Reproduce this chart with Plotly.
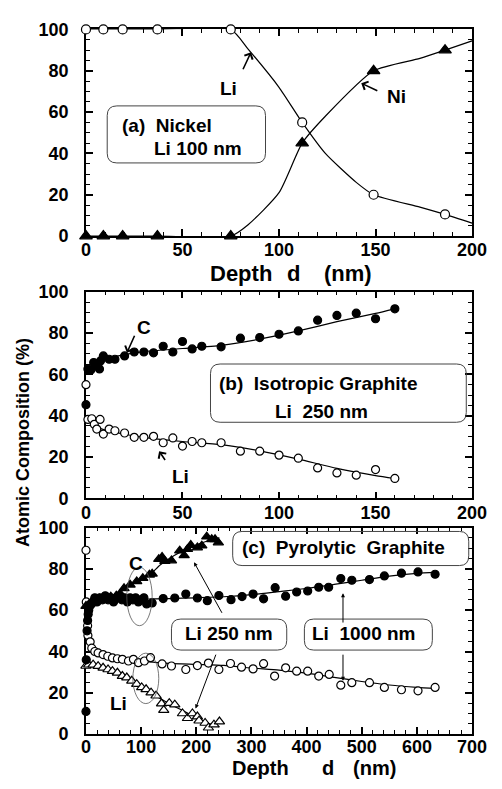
import plotly.graph_objects as go

# ---------------- Panel (a): Nickel, Li 100 nm ----------------
a_depth = [0, 9, 19, 37, 75, 112, 149, 186]
a_li = [100, 100, 100, 100, 100, 55, 20, 10.5]
a_ni = [0, 0, 0, 0, 0, 45, 80, 90]
a_fit_depth_li = [0, 37, 75, 84, 100, 112, 124, 140, 149, 173, 186, 200]
a_fit_li = [100, 100, 100, 90.5, 72, 55, 40, 26, 20, 14, 10.5, 6.3]
a_fit_depth_ni = [0, 37, 75, 84, 100, 112, 124, 149, 173, 186, 200]
a_fit_ni = [0, 0, 0, 5.5, 21, 45, 58, 80, 86, 90, 94.5]

# ---------------- Panel (b): Isotropic Graphite, Li 250 nm ----------------
b_depth = [0, 1, 2.5, 4, 5, 7, 7.5, 9, 12, 15, 20, 25, 30, 35, 40, 45, 50, 55, 60,
           70, 80, 90, 100, 110, 120, 130, 140, 150, 160]
b_c = [45.3, 62.6, 62.1, 65.7, 64.2, 62.6, 66.5, 68.9, 67.3, 67.3, 68.9, 70.8, 70.8,
       70.4, 73.6, 70.8, 75.9, 72.3, 73.6, 73.3, 77.5, 77.8, 79.4, 81, 86.2, 88.5,
       89.6, 86.9, 91.7]
b_depth_li = [0, 1, 3, 4.3, 5.6, 7.3, 9, 12, 15, 20, 25, 30, 35, 40, 45, 50, 55, 60,
              70, 80, 90, 100, 110, 120, 130, 140, 150, 160]
b_li = [55, 38.2, 38.5, 35.8, 33.5, 38.2, 31.1, 33.5, 32.7, 31.6, 29.5, 29.5, 30,
        26.9, 29.2, 25.3, 27.5, 26.9, 26.9, 22.8, 22.8, 20.9, 19.4, 14.7, 12.3, 11.2,
        13.9, 9.6]
b_fit_depth = [0.5, 5, 10, 20, 30, 50, 70, 90, 110, 130, 150, 160]
b_fit_c = [61, 65, 67.5, 69.5, 71, 72.5, 74, 77, 81, 85.5, 89.5, 91.7]
b_fit_li = [38.5, 35, 33, 31, 29.5, 27.5, 26, 23, 19, 14.5, 11, 9.6]

# ---------------- Panel (c): Pyrolytic Graphite ----------------
# Li 1000 nm sample
c1000_depth = [0, 0.5, 2, 3, 4, 5, 7, 10, 13, 16, 20, 25, 30, 35, 40, 45, 50, 55, 60,
               65, 70, 75, 80, 85, 90, 95, 100, 105, 110, 120, 140, 161, 181, 202,
               220, 241, 263, 283, 303, 322, 343, 362, 382, 402, 422, 440, 462, 482,
               514, 541, 572, 602, 633]
c1000_c = [11, 36, 50, 55, 58, 60, 62, 63, 64, 66, 64, 66, 65, 67, 65, 66, 64, 66, 67,
           65, 66, 64, 66, 65, 66, 64, 65, 66, 63, 63.5, 65.6, 65.9, 67.8, 65.9, 64.6,
           67.1, 65.1, 66.6, 67.8, 65.5, 70.9, 66.8, 68.8, 69.3, 71.1, 71.1, 75.3,
           74.5, 74.8, 76.6, 77.9, 78.5, 77.4]
c1000_li_depth = [0, 0.5, 3, 3.5, 7.6, 10.5, 16, 22, 31, 39.5, 48, 57, 66, 77, 86, 95,
                  106, 117, 138, 155, 181, 202, 222, 241, 262, 282, 303, 322, 342, 362,
                  382, 402, 422, 441, 462, 482, 514, 541, 572, 602, 633]
c1000_li = [89, 64, 52.5, 47.8, 44.7, 41.6, 40, 39.3, 38.5, 37.7, 36.9, 36.5, 36.2,
            35.4, 36.2, 34.6, 35.4, 37, 34, 33, 31.3, 33.2, 34.4, 31.3, 34.2, 32.4,
            31.6, 34.1, 28.1, 32.1, 30.5, 30.5, 28.1, 28.9, 23.7, 24.9, 24.9, 22.6,
            21.5, 21, 22.6]
c1000_fit_depth = [0, 5, 10, 20, 50, 100, 150, 200, 250, 300, 350, 400, 450, 500, 550,
                   600, 635]
c1000_fit_c = [52, 60, 63, 64.5, 65, 65.3, 65.6, 66, 66.5, 67.5, 69, 70.5, 72.5, 74.5,
               76.5, 77.8, 78.3]
c1000_fit_li = [52, 45, 42, 39.5, 38, 35.5, 34.3, 33.8, 33.3, 32, 31, 29.5, 27.5, 25.5,
                23.8, 22.6, 22]
# Li 250 nm sample
c250_c_depth = [0, 3, 6, 10, 15, 25, 35, 45, 55, 62, 69, 80, 92, 103, 115, 120, 132,
                138, 143, 155, 170, 178, 184, 190, 202, 210, 219, 228, 234, 240]
c250_c = [62, 62, 63, 64, 64.5, 65.5, 66, 66.5, 67, 68, 70.6, 72.3, 73.9, 75.5, 77.1,
          77.6, 84.7, 85.7, 83.7, 84, 88.8, 86.5, 89.5, 91.5, 90.3, 91.2, 95.6, 94.3,
          94.3, 92.7]
c250_li_depth = [0, 5, 13, 22, 31, 40, 48, 57, 66, 74, 83, 92, 101, 109, 118, 127,
                 137, 141, 151, 161, 175, 184, 193, 202, 205, 216, 222, 232, 242]
c250_li = [33, 33.6, 33.6, 32.9, 32.1, 31.3, 30.5, 29.7, 28.1, 27.4, 25.8, 24.2, 22.6,
           21.7, 20.1, 18.6, 14.8, 11.6, 15, 14.3, 10, 7.7, 10, 8.5, 6.5, 5.4, 3.1, 4.6,
           6.1]
c250_fit_c_depth = [65, 90, 115, 135, 160, 190, 220, 242]
c250_fit_c = [70, 73.5, 77, 82, 86.5, 90.5, 93.5, 95]
c250_fit_li_depth = [0, 20, 50, 80, 100, 130, 160, 190, 220, 242]
c250_fit_li = [34, 33, 31, 27, 23.5, 18, 13.5, 9.5, 5.5, 3.5]

# ---------------- tick labels ----------------
ab_xticks = [0, 50, 100, 150, 200]
c_xticks = [0, 100, 200, 300, 400, 500, 600, 700]
y_ticks = [0, 20, 40, 60, 80, 100]

FONT = "Liberation Sans, Arial, Helvetica, sans-serif"
W, H = 502, 789

fig = go.Figure()


def add_line(x, y, xa, ya):
    fig.add_trace(go.Scatter(x=x, y=y, mode="lines",
                             line=dict(color="black", width=1.2, shape="spline", smoothing=0.6),
                             xaxis=xa, yaxis=ya, hoverinfo="skip", showlegend=False))


def add_pts(x, y, xa, ya, symbol, filled, size):
    fig.add_trace(go.Scatter(x=x, y=y, mode="markers", cliponaxis=False,
                             marker=dict(symbol=symbol, size=size,
                                         color="black" if filled else "white",
                                         line=dict(color="black", width=1.2)),
                             xaxis=xa, yaxis=ya, showlegend=False))


# panel a
add_line(a_fit_depth_li, a_fit_li, "x", "y")
add_line(a_fit_depth_ni, a_fit_ni, "x", "y")
add_pts(a_depth, a_li, "x", "y", "circle", False, 9)
add_pts(a_depth, a_ni, "x", "y", "triangle-up", True, 11)

# panel b
add_line(b_fit_depth, b_fit_c, "x2", "y2")
add_line(b_fit_depth, b_fit_li, "x2", "y2")
add_pts(b_depth, b_c, "x2", "y2", "circle", True, 8)
add_pts(b_depth_li, b_li, "x2", "y2", "circle", False, 8)

# panel c
add_line(c1000_fit_depth, c1000_fit_c, "x3", "y3")
add_line(c1000_fit_depth, c1000_fit_li, "x3", "y3")
add_line(c250_fit_c_depth, c250_fit_c, "x3", "y3")
add_line(c250_fit_li_depth, c250_fit_li, "x3", "y3")
add_pts(c1000_li_depth, c1000_li, "x3", "y3", "circle", False, 8)
add_pts(c250_li_depth, c250_li, "x3", "y3", "triangle-up", False, 9)
add_pts(c1000_depth, c1000_c, "x3", "y3", "circle", True, 8)
add_pts(c250_c_depth, c250_c, "x3", "y3", "triangle-up", True, 9)

tickfont = dict(family=FONT, size=18, color="black")


def ax(rng, ticks, minor, dom, anchor, standoff):
    return dict(range=rng, tickmode="array", tickvals=ticks,
                ticktext=[f"<b>{t}</b>" for t in ticks],
                domain=dom, anchor=anchor,
                showline=True, linecolor="black", linewidth=1.5, mirror="ticks",
                ticks="inside", ticklen=7, tickwidth=1.5, tickcolor="black",
                minor=dict(ticks="inside", ticklen=4, tickwidth=1, dtick=minor,
                           tickcolor="black", showgrid=False),
                showgrid=False, zeroline=False, tickfont=tickfont,
                ticklabelstandoff=standoff,
                layer="below traces", fixedrange=True)


XD = [0.168, 0.969]
fig.update_layout(
    width=W, height=H, autosize=False,
    margin=dict(l=0, r=0, t=0, b=0, pad=0),
    paper_bgcolor="white", plot_bgcolor="white",
    font=dict(family=FONT, color="black"),
    xaxis=ax([0, 200], ab_xticks, 10, XD, "y", -3),
    yaxis=ax([0, 100], y_ticks, 5, [0.7060, 0.9747], "x", 12),
    xaxis2=ax([0, 200], ab_xticks, 10, XD, "y2", -3),
    yaxis2=ax([0, 100], y_ticks, 5, [0.3650, 0.6337], "x2", 12),
    xaxis3=ax([0, 700], c_xticks, 20, XD, "y3", -5),
    yaxis3=ax([0, 100], y_ticks, 5, [0.0583, 0.3270], "x3", 12),
)


def rrect(x0, x1, y0, y1, rx, ry):
    return (f"M {x0+rx},{y0} L {x1-rx},{y0} Q {x1},{y0} {x1},{y0+ry} "
            f"L {x1},{y1-ry} Q {x1},{y1} {x1-rx},{y1} L {x0+rx},{y1} "
            f"Q {x0},{y1} {x0},{y1-ry} L {x0},{y0+ry} Q {x0},{y0} {x0+rx},{y0} Z")


shapes = []
box_line = dict(color="#444", width=1)
shapes.append(dict(type="path", xref="x", yref="y", path=rrect(11, 93, 35.4, 63, 5, 4.7), line=box_line))
shapes.append(dict(type="path", xref="x2", yref="y2", path=rrect(64.5, 197, 36.8, 65, 5, 4.7), line=box_line))
shapes.append(dict(type="path", xref="x3", yref="y3", path=rrect(266, 694, 81.6, 98.1, 17, 4.7), line=box_line))
shapes.append(dict(type="path", xref="x3", yref="y3", path=rrect(155, 364, 40.7, 55.7, 17, 4.7), line=box_line))
shapes.append(dict(type="path", xref="x3", yref="y3", path=rrect(396, 628, 40.7, 55.7, 17, 4.7), line=box_line))
ell_line = dict(color="#555", width=0.8)
shapes.append(dict(type="circle", xref="x3", yref="y3", x0=74, x1=120, y0=52.5, y1=80.8, line=ell_line))
shapes.append(dict(type="circle", xref="x3", yref="y3", x0=85, x1=132, y0=14.8, y1=39.2, line=ell_line))
fig.update_layout(shapes=shapes)

ann = []
TF = dict(family=FONT, size=19, color="black")


def text(x, y, s, xa, ya, xanchor="center"):
    ann.append(dict(x=x, y=y, xref=xa, yref=ya, text=f"<b>{s}</b>", showarrow=False,
                    font=TF, xanchor=xanchor, yanchor="middle"))


def arrow(hx, hy, tx, ty, xa, ya, head, size, width):
    ann.append(dict(x=hx, y=hy, ax=tx, ay=ty, xref=xa, yref=ya, axref=xa, ayref=ya,
                    text="", showarrow=True, arrowhead=head, arrowsize=size,
                    arrowwidth=width, arrowcolor="black"))


NB = "\u00a0"
# panel a texts
text(73.7, 71.6, "Li", "x", "y")
arrow(85.5, 89, 81, 80, "x", "y", 4, 1.1, 1.6)
text(160.8, 67.7, "Ni", "x", "y")
arrow(142.6, 74, 151.7, 70, "x", "y", 4, 1.1, 1.6)
text(17.4, 53.5, "(a)" + NB * 2 + "Nickel", "x", "y", "left")
text(34, 42.5, "Li 100 nm", "x", "y", "left")
# panel b texts
text(29.9, 82.5, "C", "x2", "y2")
arrow(21.2, 70.4, 25.5, 79.4, "x2", "y2", 4, 1.1, 1.6)
text(49, 10.7, "Li", "x2", "y2")
arrow(37.9, 22.8, 41.5, 17.8, "x2", "y2", 4, 1.1, 1.6)
text(68, 55.5, "(b)" + NB * 2 + "Isotropic Graphite", "x2", "y2", "left")
text(122, 42.1, "Li" + NB * 2 + "250 nm", "x2", "y2")
# panel c texts
text(280, 90.2, "(c)" + NB * 2 + "Pyrolytic" + NB * 2 + "Graphite", "x3", "y3", "left")
text(259.5, 48.6, "Li 250 nm", "x3", "y3")
text(503.6, 48.6, "Li" + NB * 2 + "1000 nm", "x3", "y3")
text(91.3, 82.4, "C", "x3", "y3")
text(59.2, 14.8, "Li", "x3", "y3")
arrow(195.9, 83.2, 248, 58, "x3", "y3", 2, 0.8, 1)
arrow(198.7, 12.4, 236.5, 39.2, "x3", "y3", 2, 0.8, 1)
arrow(466, 68.2, 466, 53.3, "x3", "y3", 2, 0.8, 1)
arrow(466, 25.8, 466, 39.2, "x3", "y3", 2, 0.8, 1)


def ptext(px, py, s, size=22, angle=0):
    ann.append(dict(x=px / W, y=1 - py / H, xref="paper", yref="paper", text=f"<b>{s}</b>",
                    showarrow=False, textangle=angle, xanchor="center", yanchor="middle",
                    font=dict(family=FONT, size=size, color="black")))


ptext(245.5, 270, "Depth")
ptext(300.5, 270, "d")
ptext(357.5, 270, "(nm)")
ptext(266.5, 778, "Depth", size=20)
ptext(336.7, 778, "d", size=20)
ptext(385, 778, "(nm)", size=20)
ptext(19, 444, "Atomic Composition (%)", size=18, angle=-90)

fig.update_layout(annotations=ann)
fig.write_html("out.html", config=dict(displayModeBar=False),
               post_script="document.body.style.margin='0';document.body.style.overflow='hidden';")
